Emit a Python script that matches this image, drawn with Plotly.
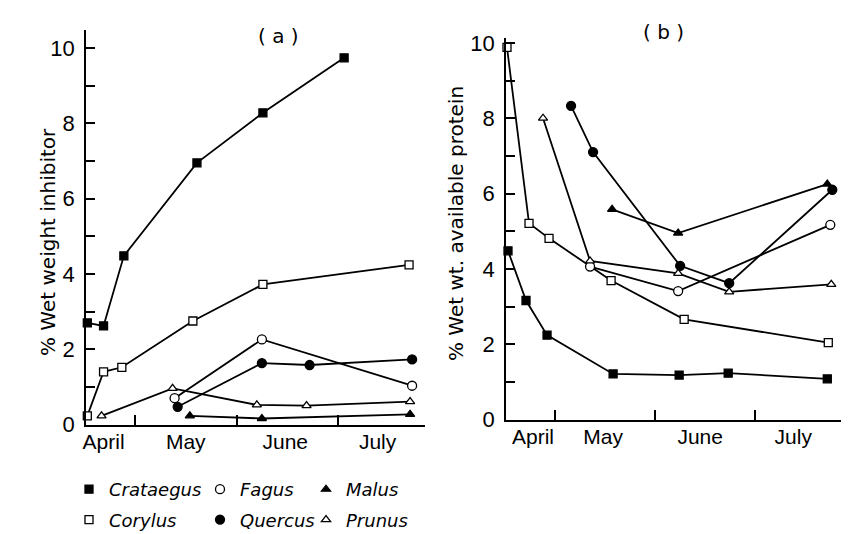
import plotly.graph_objects as go

# ---------------- data ----------------
# x in "month units": 1 = end of April, 2 = end of May, 3 = end of June
months = ["April", "May", "June", "July"]
month_pos_a = [0.69, 1.50, 2.48, 3.39]
month_pos_b = [0.78, 1.48, 2.45, 3.38]
month_bounds = [1, 2, 3]

# panel (a): % wet weight inhibitor
a_crataegus_x = [0.53, 0.69, 0.89, 1.61, 2.26, 3.06]
a_crataegus_y = [2.70, 2.62, 4.48, 6.95, 8.28, 9.74]
a_corylus_x = [0.53, 0.69, 0.87, 1.57, 2.26, 3.70]
a_corylus_y = [0.23, 1.40, 1.52, 2.75, 3.72, 4.24]
a_fagus_x = [1.39, 2.25, 3.73]
a_fagus_y = [0.70, 2.26, 1.03]
a_quercus_x = [1.42, 2.25, 2.72, 3.73]
a_quercus_y = [0.47, 1.63, 1.58, 1.73]
a_malus_x = [1.54, 2.25, 3.71]
a_malus_y = [0.23, 0.16, 0.27]
a_prunus_x = [0.67, 1.37, 2.20, 2.69, 3.71]
a_prunus_y = [0.23, 0.96, 0.52, 0.50, 0.61]

# panel (b): % wet wt. available protein
b_crataegus_x = [0.53, 0.71, 0.92, 1.58, 2.24, 2.73, 3.72]
b_crataegus_y = [4.48, 3.16, 2.24, 1.21, 1.18, 1.23, 1.08]
b_corylus_x = [0.52, 0.74, 0.94, 1.56, 2.29, 3.73]
b_corylus_y = [9.88, 5.21, 4.81, 3.69, 2.66, 2.04]
b_fagus_x = [1.35, 2.23, 3.75]
b_fagus_y = [4.06, 3.41, 5.17]
b_quercus_x = [1.16, 1.38, 2.25, 2.74, 3.77]
b_quercus_y = [8.33, 7.10, 4.08, 3.62, 6.10]
b_malus_x = [1.57, 2.23, 3.72]
b_malus_y = [5.58, 4.95, 6.25]
b_prunus_x = [0.88, 1.35, 2.23, 2.74, 3.76]
b_prunus_y = [8.00, 4.21, 3.88, 3.39, 3.59]

y_ticks = list(range(0, 11))
y_ticktext = [str(v) if v % 2 == 0 else "" for v in y_ticks]

# ---------------- styles ----------------
BLACK = "#000000"
WHITE = "#ffffff"
styles = {
    "Crataegus": dict(symbol="square", color=BLACK, size=8),
    "Corylus": dict(symbol="square", color=WHITE, size=8),
    "Fagus": dict(symbol="circle", color=WHITE, size=9),
    "Quercus": dict(symbol="circle", color=BLACK, size=9),
    "Malus": dict(symbol="triangle-up", color=BLACK, size=8),
    "Prunus": dict(symbol="triangle-up", color=WHITE, size=8),
}

series_a = {
    "Crataegus": (a_crataegus_x, a_crataegus_y),
    "Corylus": (a_corylus_x, a_corylus_y),
    "Fagus": (a_fagus_x, a_fagus_y),
    "Quercus": (a_quercus_x, a_quercus_y),
    "Malus": (a_malus_x, a_malus_y),
    "Prunus": (a_prunus_x, a_prunus_y),
}
series_b = {
    "Crataegus": (b_crataegus_x, b_crataegus_y),
    "Corylus": (b_corylus_x, b_corylus_y),
    "Fagus": (b_fagus_x, b_fagus_y),
    "Quercus": (b_quercus_x, b_quercus_y),
    "Malus": (b_malus_x, b_malus_y),
    "Prunus": (b_prunus_x, b_prunus_y),
}

fig = go.Figure()


def marker_of(name):
    s = styles[name]
    return dict(symbol=s["symbol"], size=s["size"], color=s["color"],
                line=dict(color=BLACK, width=1.3))


for axes, series in (("x", series_a), ("x2", series_b)):
    yname = "y" if axes == "x" else "y2"
    for name, (xs, ys) in series.items():
        fig.add_trace(go.Scatter(
            x=xs, y=ys, mode="lines+markers", xaxis=axes, yaxis=yname,
            line=dict(color=BLACK, width=1.8), marker=marker_of(name),
            showlegend=False, cliponaxis=False, hoverinfo="skip"))

# legend-only traces, three columns
legend_cols = {
    "legend": ["Crataegus", "Corylus"],
    "legend2": ["Fagus", "Quercus"],
    "legend3": ["Malus", "Prunus"],
}
for lg, names in legend_cols.items():
    for name in names:
        fig.add_trace(go.Scatter(
            x=[None], y=[None], mode="markers", name=name, legend=lg,
            legendgroup=name, marker=marker_of(name), showlegend=True))

TICKFONT = dict(family="Liberation Sans", size=22, color=BLACK)
MONTHFONT = dict(family="Liberation Sans", size=21, color=BLACK)


def xaxis_cfg(domain, pos, rng):
    return dict(domain=domain, range=rng, anchor=None,
                showline=True, linecolor=BLACK, linewidth=1.8,
                showgrid=False, zeroline=False, automargin=False,
                tickmode="array", tickvals=pos, ticktext=months,
                ticks="", ticklen=0, tickfont=MONTHFONT, ticklabelstandoff=-3,
                minor=dict(tickmode="array", tickvals=month_bounds, ticks="inside",
                           ticklen=10, tickwidth=1.5, tickcolor=BLACK, showgrid=False))


def yaxis_cfg(domain, rng):
    return dict(domain=domain, range=rng,
                showline=True, linecolor=BLACK, linewidth=1.8,
                showgrid=False, zeroline=False, automargin=False,
                tickmode="array", tickvals=y_ticks, ticktext=y_ticktext,
                ticks="inside", ticklen=9, tickwidth=1.5, tickcolor=BLACK,
                tickfont=TICKFONT, ticklabelstandoff=5)


xa = xaxis_cfg([86 / 851, 425 / 851], month_pos_a, [0.517, 3.857])
xa["anchor"] = "y"
xb = xaxis_cfg([506 / 851, 841 / 851], month_pos_b, [0.51, 3.857])
xb["anchor"] = "y2"
ya = yaxis_cfg([1 - 424.5 / 534, 1 - 30 / 534], [0, 10.48])
ya["anchor"] = "x"
yb = yaxis_cfg([1 - 419.5 / 534, 1 - 38 / 534], [0, 10.13])
yb["anchor"] = "x2"

LEGFONT = dict(family="DejaVu Sans", size=18, color=BLACK, style="italic")


def legend_cfg(xpx):
    return dict(x=xpx / 851, y=1 - 471 / 534, xanchor="left", yanchor="top",
                xref="container", yref="container",
                orientation="v", font=LEGFONT, bgcolor="rgba(0,0,0,0)",
                tracegroupgap=4, itemwidth=30, borderwidth=0)


TITLEFONT = dict(family="DejaVu Sans", size=20, color=BLACK)

fig.update_layout(
    width=851, height=534,
    margin=dict(l=0, r=0, t=0, b=0, autoexpand=False),
    paper_bgcolor=WHITE, plot_bgcolor=WHITE,
    xaxis=xa, yaxis=ya, xaxis2=xb, yaxis2=yb,
    legend=legend_cfg(69), legend2=legend_cfg(200), legend3=legend_cfg(306),
    annotations=[
        dict(text="( a )", x=256 / 851, y=1 - 22 / 534, xref="paper", yref="paper",
             showarrow=False, font=TITLEFONT),
        dict(text="( b )", x=686 / 851, y=1 - 18 / 534, xref="paper", yref="paper",
             showarrow=False, font=TITLEFONT),
        dict(text="% Wet weight inhibitor", x=34 / 851, y=1 - 242 / 534,
             xref="paper", yref="paper", showarrow=False, textangle=-90,
             font=TITLEFONT),
        dict(text="% Wet wt. available protein", x=456 / 851, y=1 - 224 / 534,
             xref="paper", yref="paper", showarrow=False, textangle=-90,
             font=TITLEFONT),
    ],
)

fig.write_html("out.html")
